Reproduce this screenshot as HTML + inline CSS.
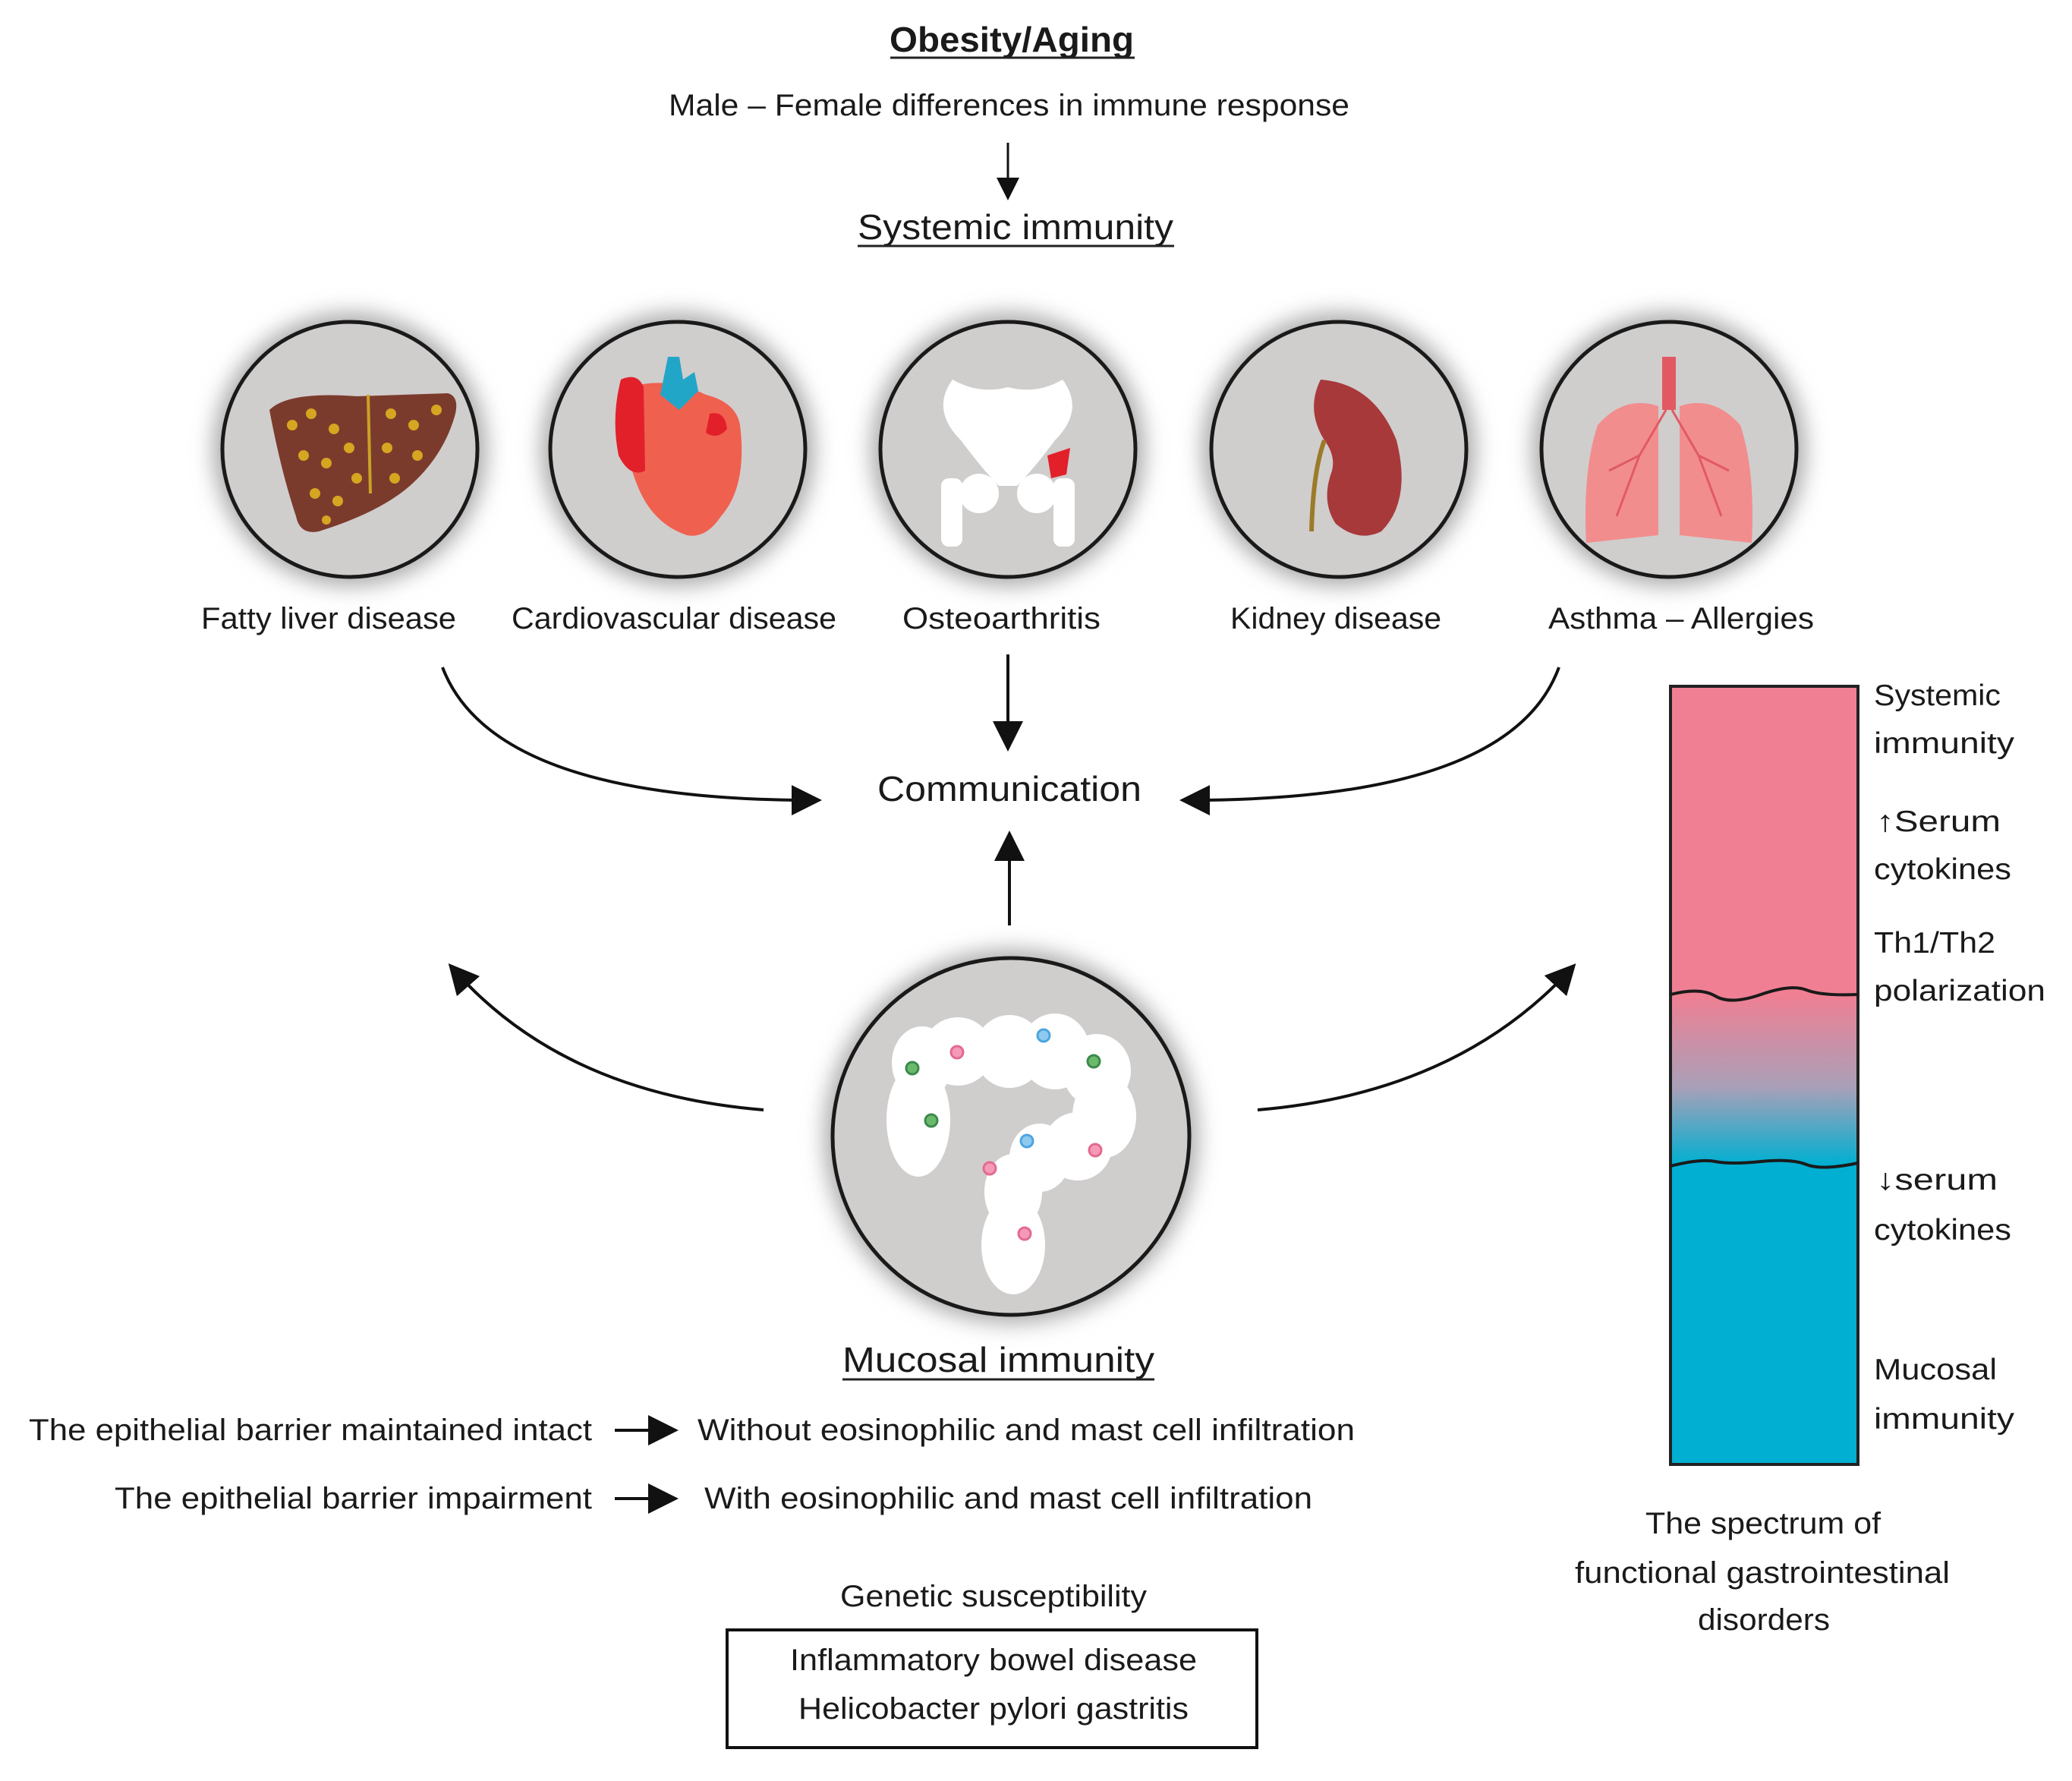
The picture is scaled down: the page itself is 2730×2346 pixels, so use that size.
<!DOCTYPE html>
<html><head><meta charset="utf-8"><style>
html,body{margin:0;padding:0;background:#fff}
svg{display:block}
text{font-family:"Liberation Sans",sans-serif;fill:#1a1a1a}
</style></head><body>
<svg width="2730" height="2346" viewBox="0 0 2730 2346" xmlns="http://www.w3.org/2000/svg">
<defs>
<marker id="ah" markerWidth="10" markerHeight="10" refX="8" refY="5" orient="auto" markerUnits="strokeWidth">
<path d="M0,0 L10,5 L0,10 z" fill="#111"/></marker>
<filter id="glow" x="-30%" y="-30%" width="160%" height="160%"><feGaussianBlur stdDeviation="14"/></filter>
<linearGradient id="mix" x1="0" y1="0" x2="0" y2="1">
<stop offset="0" stop-color="#f07f93"/><stop offset="0.55" stop-color="#a8a0b8"/><stop offset="1" stop-color="#00afd1"/></linearGradient>
</defs>

<text x="1172" y="68" font-size="46" font-weight="bold" textLength="322" lengthAdjust="spacingAndGlyphs">Obesity/Aging</text>
<line x1="1173" y1="76" x2="1495" y2="76" stroke="#222" stroke-width="3"/>
<text x="881" y="152" font-size="40" textLength="897" lengthAdjust="spacingAndGlyphs">Male – Female differences in immune response</text>
<line x1="1328" y1="188" x2="1328" y2="258" stroke="#111" stroke-width="3" marker-end="url(#ah)"/>
<text x="1130" y="315" font-size="46" textLength="416" lengthAdjust="spacingAndGlyphs">Systemic immunity</text>
<line x1="1130" y1="324" x2="1547" y2="324" stroke="#222" stroke-width="3"/>

<g>
<circle cx="461" cy="592" r="180" fill="#aaa" filter="url(#glow)"/>
<circle cx="893" cy="592" r="180" fill="#aaa" filter="url(#glow)"/>
<circle cx="1328" cy="592" r="180" fill="#aaa" filter="url(#glow)"/>
<circle cx="1764" cy="592" r="180" fill="#aaa" filter="url(#glow)"/>
<circle cx="2199" cy="592" r="180" fill="#aaa" filter="url(#glow)"/>
<circle cx="1332" cy="1497" r="246" fill="#aaa" filter="url(#glow)"/>
</g>
<g fill="#d0cdcd" stroke="#1a1a1a" stroke-width="5">
<circle cx="461" cy="592" r="168"/>
<circle cx="893" cy="592" r="168"/>
<circle cx="1328" cy="592" r="168"/>
<circle cx="1764" cy="592" r="168"/>
<circle cx="2199" cy="592" r="168"/>
<circle cx="1332" cy="1497" r="235"/>
</g>

<path d="M355,540 Q380,515 470,522 L590,518 Q605,522 600,545 Q585,600 540,640 Q500,675 420,700 Q395,705 390,680 Q370,620 355,540 z" fill="#7b3b2c"/>
<line x1="485" y1="520" x2="488" y2="650" stroke="#c9a227" stroke-width="4"/>
<g fill="#d6a521">
<circle cx="385" cy="560" r="7"/><circle cx="410" cy="545" r="7"/><circle cx="440" cy="565" r="7"/><circle cx="400" cy="600" r="7"/><circle cx="430" cy="610" r="7"/><circle cx="460" cy="590" r="7"/><circle cx="415" cy="650" r="7"/><circle cx="445" cy="660" r="7"/><circle cx="470" cy="630" r="7"/><circle cx="515" cy="545" r="7"/><circle cx="545" cy="560" r="7"/><circle cx="575" cy="540" r="7"/><circle cx="510" cy="590" r="7"/><circle cx="550" cy="600" r="7"/><circle cx="520" cy="630" r="7"/><circle cx="430" cy="685" r="6"/></g>

<path d="M830,510 Q880,495 930,520 Q970,530 975,560 Q985,640 950,680 Q930,710 905,705 Q860,690 840,640 Q815,580 830,510 z" fill="#f0604e"/>
<path d="M818,500 Q840,490 848,510 L850,620 Q830,630 815,600 Q805,550 818,500 z" fill="#e2202a"/>
<path d="M880,470 L895,470 L900,500 L915,490 L920,515 L895,540 L870,520 z" fill="#22a6c8"/>
<path d="M935,545 Q955,540 958,565 Q945,580 930,570 z" fill="#e2202a"/>

<g fill="#fff">
<path d="M1255,500 Q1290,520 1328,510 Q1366,520 1400,500 Q1430,540 1390,580 Q1360,620 1340,640 L1316,640 Q1296,620 1266,580 Q1226,540 1255,500 z"/>
<rect x="1240" y="630" width="28" height="90" rx="10"/>
<rect x="1388" y="630" width="28" height="90" rx="10"/>
<circle cx="1290" cy="650" r="26"/><circle cx="1366" cy="650" r="26"/>
</g>
<path d="M1380,600 L1410,590 L1405,625 L1385,630 z" fill="#e2202a"/>

<path d="M1740,500 Q1810,505 1840,580 Q1860,660 1820,700 Q1790,715 1760,690 Q1740,660 1755,620 Q1760,600 1745,580 Q1720,540 1740,500 z" fill="#a8393b"/>
<path d="M1745,580 Q1730,620 1728,700" stroke="#9b7b2a" stroke-width="6" fill="none"/>

<path d="M2190,470 L2208,470 L2208,540 L2190,540 z" fill="#e15a63"/>
<path d="M2185,535 Q2140,520 2105,560 Q2085,620 2090,715 L2185,705 z" fill="#f28d8d"/>
<path d="M2213,535 Q2258,520 2293,560 Q2313,620 2308,715 L2213,705 z" fill="#f28d8d"/>
<g stroke="#e15a63" stroke-width="3" fill="none"><path d="M2195,540 L2160,600 L2130,680 M2160,600 L2120,620"/><path d="M2203,540 L2238,600 L2268,680 M2238,600 L2278,620"/></g>

<g font-size="40" lengthAdjust="spacingAndGlyphs">
<text x="265" y="828" textLength="336" lengthAdjust="spacingAndGlyphs">Fatty liver disease</text>
<text x="674" y="828" textLength="428" lengthAdjust="spacingAndGlyphs">Cardiovascular disease</text>
<text x="1189" y="828" textLength="261" lengthAdjust="spacingAndGlyphs">Osteoarthritis</text>
<text x="1621" y="828" textLength="278" lengthAdjust="spacingAndGlyphs">Kidney disease</text>
<text x="2040" y="828" textLength="350" lengthAdjust="spacingAndGlyphs">Asthma – Allergies</text>
</g>

<line x1="1328" y1="862" x2="1328" y2="982" stroke="#111" stroke-width="4" marker-end="url(#ah)"/>
<text x="1156" y="1055" font-size="46" textLength="348" lengthAdjust="spacingAndGlyphs">Communication</text>
<path d="M583,879 Q650,1055 1075,1054" stroke="#111" stroke-width="4" fill="none" marker-end="url(#ah)"/>
<path d="M2054,879 Q1990,1055 1562,1054" stroke="#111" stroke-width="4" fill="none" marker-end="url(#ah)"/>
<line x1="1330" y1="1219" x2="1330" y2="1102" stroke="#111" stroke-width="4" marker-end="url(#ah)"/>
<path d="M1006,1462 Q740,1440 596,1275" stroke="#111" stroke-width="4" fill="none" marker-end="url(#ah)"/>
<path d="M1657,1462 Q1920,1440 2071,1275" stroke="#111" stroke-width="4" fill="none" marker-end="url(#ah)"/>

<g fill="#fff">
<ellipse cx="1215" cy="1400" rx="40" ry="48"/><ellipse cx="1262" cy="1385" rx="46" ry="45"/><ellipse cx="1330" cy="1385" rx="46" ry="48"/><ellipse cx="1390" cy="1385" rx="46" ry="50"/><ellipse cx="1445" cy="1410" rx="45" ry="48"/><ellipse cx="1455" cy="1470" rx="42" ry="55"/><ellipse cx="1420" cy="1510" rx="45" ry="45"/><ellipse cx="1370" cy="1525" rx="40" ry="45"/><ellipse cx="1335" cy="1570" rx="38" ry="50"/><ellipse cx="1335" cy="1640" rx="42" ry="65"/><ellipse cx="1210" cy="1475" rx="42" ry="75"/></g>
<g stroke-width="3">
<circle cx="1202" cy="1407" r="8" fill="#6bba6b" stroke="#3c8a4c"/><circle cx="1227" cy="1476" r="8" fill="#6bba6b" stroke="#3c8a4c"/><circle cx="1441" cy="1398" r="8" fill="#6bba6b" stroke="#3c8a4c"/>
<circle cx="1261" cy="1386" r="8" fill="#f49ab8" stroke="#e36a8f"/><circle cx="1304" cy="1539" r="8" fill="#f49ab8" stroke="#e36a8f"/><circle cx="1443" cy="1515" r="8" fill="#f49ab8" stroke="#e36a8f"/><circle cx="1350" cy="1625" r="8" fill="#f49ab8" stroke="#e36a8f"/>
<circle cx="1375" cy="1364" r="8" fill="#8ec9ef" stroke="#4ca6df"/><circle cx="1353" cy="1503" r="8" fill="#8ec9ef" stroke="#4ca6df"/></g>

<text x="1110" y="1807" font-size="46" textLength="411" lengthAdjust="spacingAndGlyphs">Mucosal immunity</text>
<line x1="1110" y1="1817" x2="1521" y2="1817" stroke="#222" stroke-width="3"/>

<g font-size="40">
<text x="38" y="1897" textLength="742" lengthAdjust="spacingAndGlyphs">The epithelial barrier maintained intact</text>
<text x="919" y="1897" textLength="866" lengthAdjust="spacingAndGlyphs">Without eosinophilic and mast cell infiltration</text>
<text x="151" y="1987" textLength="629" lengthAdjust="spacingAndGlyphs">The epithelial barrier impairment</text>
<text x="928" y="1987" textLength="801" lengthAdjust="spacingAndGlyphs">With eosinophilic and mast cell infiltration</text>
<text x="1107" y="2116" textLength="404" lengthAdjust="spacingAndGlyphs">Genetic susceptibility</text>
<text x="1041" y="2200" textLength="536" lengthAdjust="spacingAndGlyphs">Inflammatory bowel disease</text>
<text x="1052" y="2264" textLength="514" lengthAdjust="spacingAndGlyphs">Helicobacter pylori gastritis</text>
</g>
<line x1="810" y1="1884" x2="886" y2="1884" stroke="#111" stroke-width="4" marker-end="url(#ah)"/>
<line x1="810" y1="1974" x2="886" y2="1974" stroke="#111" stroke-width="4" marker-end="url(#ah)"/>
<rect x="958" y="2147" width="698" height="155" fill="none" stroke="#111" stroke-width="4"/>

<rect x="2201" y="904" width="247" height="408" fill="#f07f93"/>
<rect x="2201" y="1310" width="247" height="224" fill="url(#mix)"/>
<rect x="2201" y="1532" width="247" height="397" fill="#00afd1"/>
<rect x="2201" y="904" width="247" height="1025" fill="none" stroke="#222" stroke-width="4"/>
<path d="M2201,1310 Q2240,1300 2260,1312 T2320,1310 T2380,1304 T2448,1310" stroke="#1a1a1a" stroke-width="4" fill="none"/>
<path d="M2201,1536 Q2240,1526 2260,1530 T2320,1530 T2380,1534 T2448,1532" stroke="#1a1a1a" stroke-width="4" fill="none"/>

<g font-size="39">
<text x="2469" y="929" textLength="167" lengthAdjust="spacingAndGlyphs">Systemic</text><text x="2469" y="992" textLength="185" lengthAdjust="spacingAndGlyphs">immunity</text>
<text x="2472" y="1095" textLength="164" lengthAdjust="spacingAndGlyphs">↑Serum</text><text x="2469" y="1158" textLength="181" lengthAdjust="spacingAndGlyphs">cytokines</text>
<text x="2469" y="1255" textLength="160" lengthAdjust="spacingAndGlyphs">Th1/Th2</text><text x="2469" y="1318" textLength="226" lengthAdjust="spacingAndGlyphs">polarization</text>
<text x="2472" y="1567" textLength="160" lengthAdjust="spacingAndGlyphs">↓serum</text><text x="2469" y="1633" textLength="181" lengthAdjust="spacingAndGlyphs">cytokines</text>
<text x="2469" y="1817" textLength="162" lengthAdjust="spacingAndGlyphs">Mucosal</text><text x="2469" y="1882" textLength="185" lengthAdjust="spacingAndGlyphs">immunity</text>
</g>
<g font-size="40">
<text x="2168" y="2020" textLength="310" lengthAdjust="spacingAndGlyphs">The spectrum of</text>
<text x="2075" y="2085" textLength="494" lengthAdjust="spacingAndGlyphs">functional gastrointestinal</text>
<text x="2237" y="2147" textLength="174" lengthAdjust="spacingAndGlyphs">disorders</text>
</g>
</svg>
</body></html>
